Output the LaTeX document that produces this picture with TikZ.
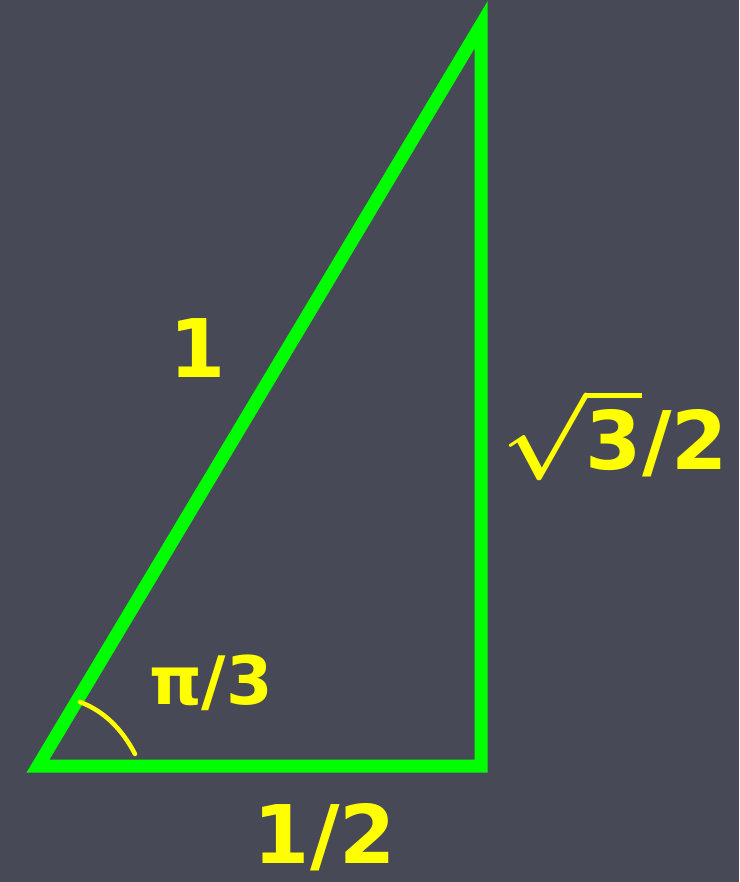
\documentclass[tikz,border=0pt]{standalone}
\usepackage{fontspec}
\setmainfont{DejaVu Sans}
\usetikzlibrary{positioning}

\definecolor{slatebg}{HTML}{484956}
\definecolor{sidegreen}{HTML}{00FF00}
\definecolor{lblyellow}{HTML}{FFFF00}

\begin{document}
\begin{tikzpicture}[
  x=0.01cm,y=-0.01cm,
  side/.style={draw=sidegreen,line width=0.13cm,line join=miter},
  lbl/.style={text=lblyellow,inner sep=0pt,font=\bfseries\boldmath\fontsize{#1}{#1}\selectfont},
  anglearc/.style={draw=lblyellow,line width=0.045cm,line cap=round},
]
  % background
  \fill[slatebg] (0,0) rectangle (739,882);
  \useasboundingbox (0,0) rectangle (739,882);

  % vertices
  \coordinate (A) at (38,766);
  \coordinate (B) at (481,766);
  \coordinate (C) at (481,25);

  % triangle
  \draw[side] (A) -- (B) -- (C) -- cycle;

  % angle mark
  \coordinate (arcstart) at (80,702);
  \coordinate (arcend) at (135,754);
  \draw[anglearc] (arcstart) .. controls (104,711) and (122,729) .. (arcend);

  % labels
  \node[lbl=23] (hyp) at (198,348) {1};
  \node[lbl=23] (vert) at (615,434) {$\sqrt{\mbox{3}}$/2};
  \node[lbl=19] (ang) at (211,683) {π/3};
  \node[lbl=23] (base) at (325,837) {1/2};
\end{tikzpicture}
\end{document}
